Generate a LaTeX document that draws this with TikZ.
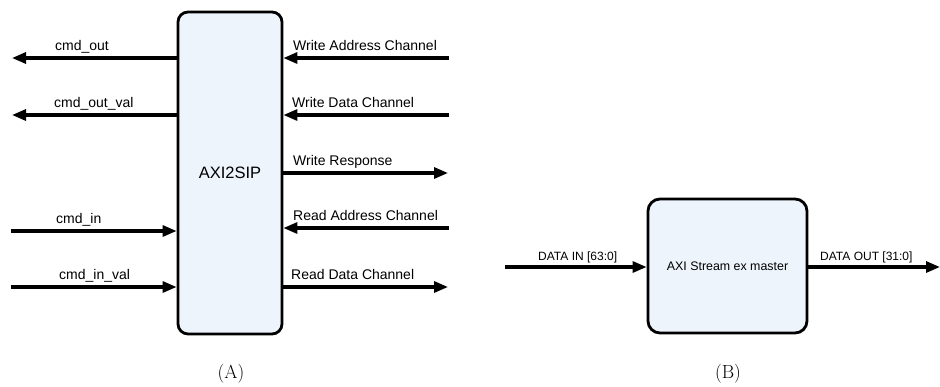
\documentclass[tikz,border=0pt]{standalone}
\usepackage{fontspec}
\newfontfamily\labfont{Liberation Sans}
\usetikzlibrary{arrows.meta}
\definecolor{boxfill}{RGB}{237,244,252}
\tikzset{
  blk/.style={draw=black, line width=2.8pt, fill=boxfill, rounded corners=10pt, inner sep=0pt},
  arr/.style={line width=3.1pt, -{Triangle[length=14pt,width=11pt]}},
  lab/.style={font=\labfont\fontsize{14}{16}\selectfont, anchor=base west, inner sep=0pt},
  slab/.style={font=\labfont\fontsize{12}{14}\selectfont, anchor=base west, inner sep=0pt},
  captext/.style={font=\fontsize{19}{22}\selectfont, inner sep=0pt}
}
\begin{document}
\begin{tikzpicture}[x=1pt,y=-1pt]
\useasboundingbox (0,0) rectangle (940,386);
% Box A
\node[blk, minimum width=104pt, minimum height=322pt, font=\labfont\fontsize{16.5}{18}\selectfont] (A) at (230,173) {AXI2SIP};
% free ends left
\coordinate (lo1) at (12,58);
\coordinate (lo2) at (12,115);
\coordinate (li1) at (11,231);
\coordinate (li2) at (11,287);
% free ends right
\coordinate (ri1) at (449,58);
\coordinate (ri2) at (449,115);
\coordinate (ro3) at (448,173);
\coordinate (ri4) at (449,228);
\coordinate (ro5) at (448,287);
% left connectors
\draw[arr] (A.west |- lo1) -- (lo1);
\draw[arr] (A.west |- lo2) -- (lo2);
\draw[arr] (li1) -- (A.west |- li1);
\draw[arr] (li2) -- (A.west |- li2);
% right connectors
\draw[arr] (ri1) -- (A.east |- ri1);
\draw[arr] (ri2) -- (A.east |- ri2);
\draw[arr] (A.east |- ro3) -- (ro3);
\draw[arr] (ri4) -- (A.east |- ri4);
\draw[arr] (A.east |- ro5) -- (ro5);
% left labels
\node[lab] (t1) at (55,50) {cmd\_out};
\node[lab] (t2) at (54,107) {cmd\_out\_val};
\node[lab] (t3) at (56,223) {cmd\_in};
\node[lab] (t4) at (59,279) {cmd\_in\_val};
% right labels
\node[lab] (t5) at (293,50) {Write Address Channel};
\node[lab] (t6) at (292,107) {Write Data Channel};
\node[lab] (t7) at (293,165) {Write Response};
\node[lab] (t8) at (293,220) {Read Address Channel};
\node[lab] (t9) at (291,279) {Read Data Channel};
% Box B
\node[blk, rounded corners=12pt, minimum width=159pt, minimum height=134pt, font=\labfont\fontsize{12.4}{14}\selectfont] (B) at (727.5,266) {AXI Stream ex master};
\coordinate (di) at (505,267);
\coordinate (do) at (940,267);
\draw[arr] (di) -- (B.west |- di);
\draw[arr] (B.east |- do) -- (do);
\node[slab] (t10) at (538,260) {DATA IN [63:0]};
\node[slab] (t11) at (820,260) {DATA OUT [31:0]};
% captions
\node[captext] (ca) at (231,374) {(A)};
\node[captext] (cb) at (728,374) {(B)};
\end{tikzpicture}
\end{document}
